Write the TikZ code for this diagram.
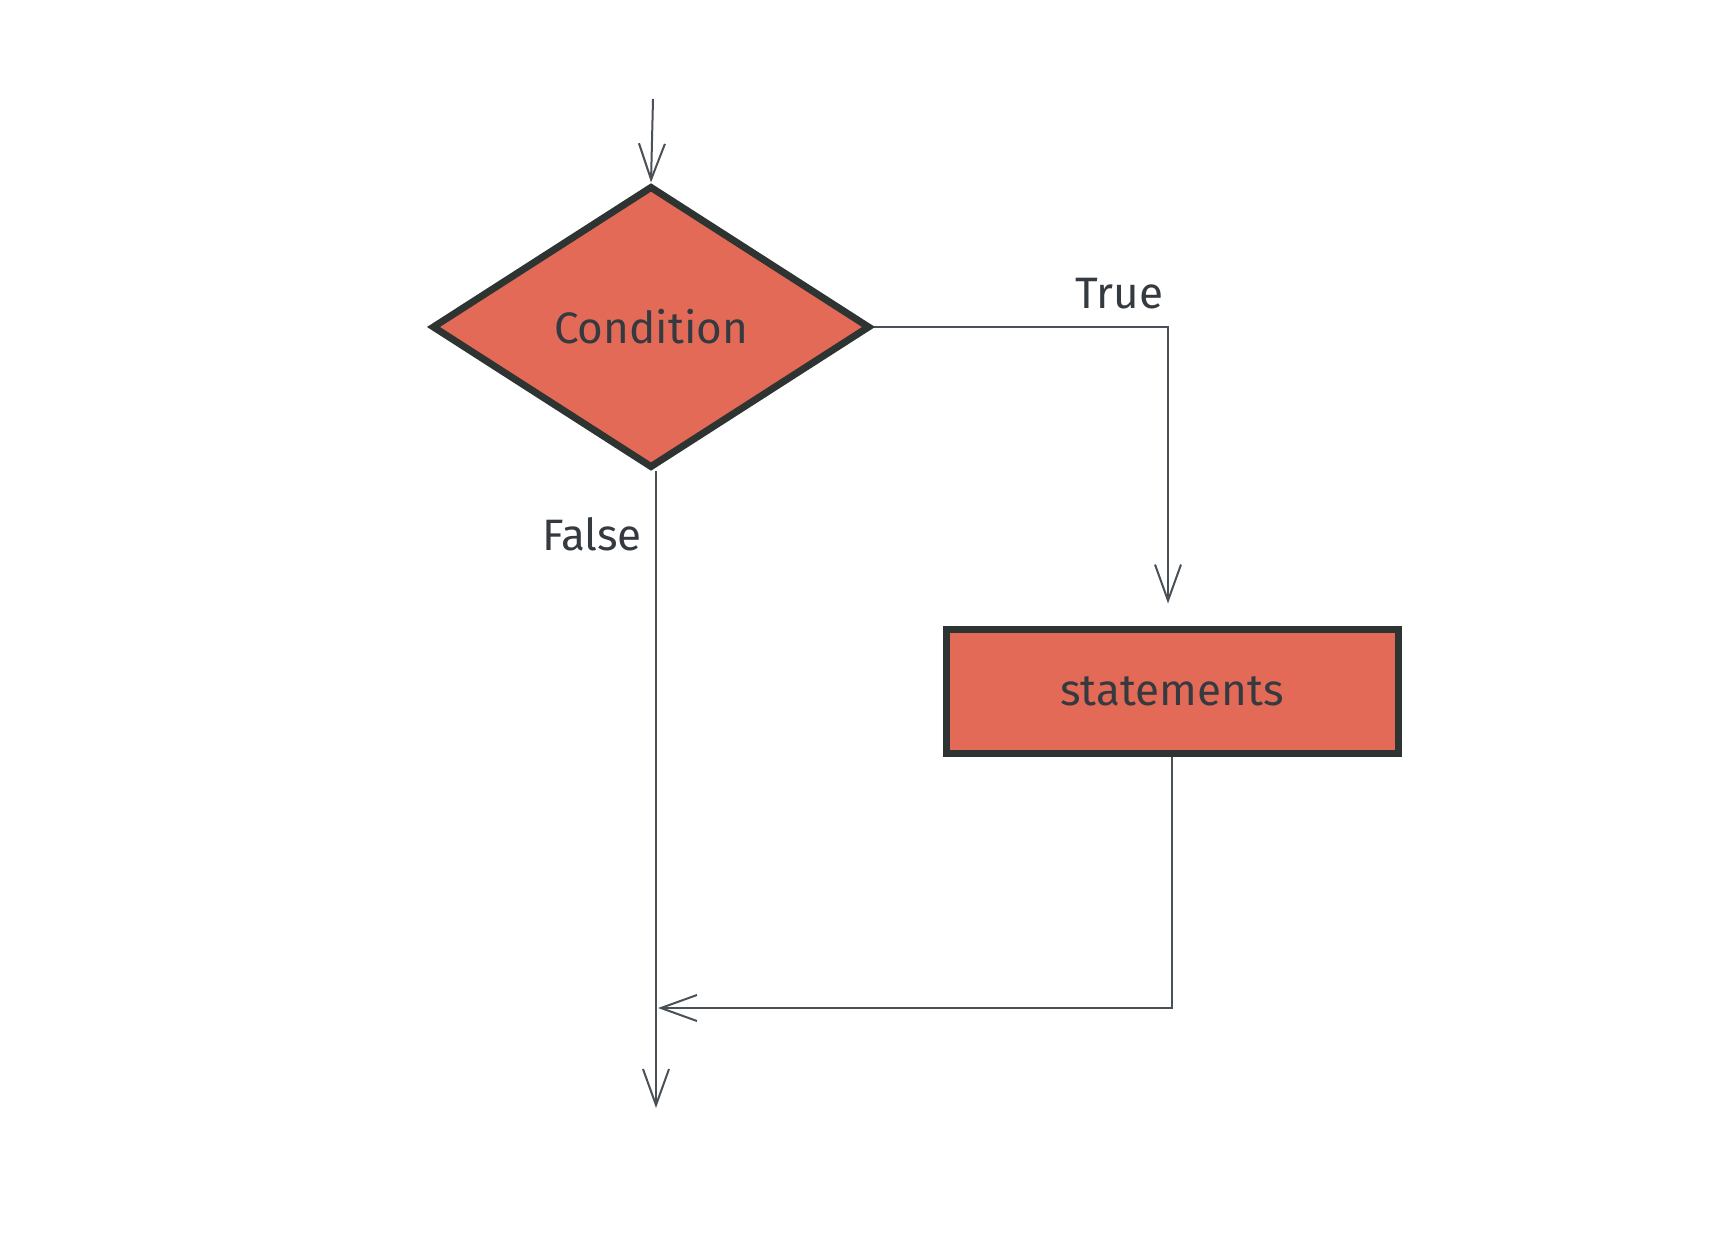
\documentclass[tikz,border=0pt]{standalone}
\usepackage{fontspec}
\setmainfont{Fira Sans}
\usetikzlibrary{shapes.geometric, positioning, calc}
\usetikzlibrary{arrows.meta}
\definecolor{boxred}{RGB}{227,106,87}
\definecolor{edgedark}{RGB}{45,52,50}
\definecolor{linegray}{RGB}{73,80,87}
\definecolor{textdark}{RGB}{52,58,64}

\begin{document}
\begin{tikzpicture}[x=0.5pt, y=-0.5pt,
        condnode/.style={diamond, draw=edgedark, fill=boxred, line width=3.5pt, minimum width=219pt, minimum height=141pt, inner sep=0pt},
        stmtnode/.style={rectangle, draw=edgedark, fill=boxred, line width=3.5pt, minimum width=226pt, minimum height=62pt},
        flow/.style={draw=linegray, line width=1pt, -{Straight Barb[length=18pt, width=13pt]}},
        thick]
        \tikzstyle{every node}=[font=\fontsize{22}{26}\selectfont, text=textdark]
            \useasboundingbox (0,0) rectangle (1712,1256);
            \coordinate (start) at (653,99);
            \node[condnode] (cond) at (651,327) {Condition};
            \node[stmtnode] (stmt) at (1172,691) {statements};
            \coordinate (turn) at (1168,327);
            \coordinate (merge) at (658,1008);
            \coordinate (stop) at (656,1108);

            \draw[flow] (start) -- (cond.north);
            \draw[flow, shorten >=11pt] (cond.east) -- (turn) -- (turn |- stmt.north);
            \draw[flow] (stmt.south) |- (merge);
            \draw[flow] (cond.south -| stop) -- (stop);

            \node at (1119,294) {True};
            \node at (592,534) {False};
        \end{tikzpicture}
\end{document}
